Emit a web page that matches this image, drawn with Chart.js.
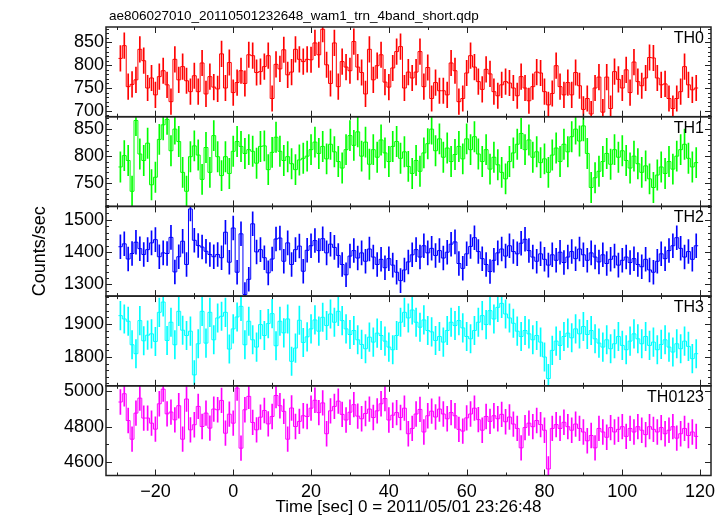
<!DOCTYPE html>
<html>
<head>
<meta charset="utf-8">
<script src="https://cdn.jsdelivr.net/npm/chart.js@4.4.0/dist/chart.umd.min.js"></script>
<style>
  html, body { margin: 0; padding: 0; background: #fff; }
  #wrap { position: relative; width: 726px; height: 516px; }
</style>
</head>
<body>
<div id="wrap"><canvas id="lc" width="726" height="516"></canvas></div>
<script>
// --- labels ---
const fileTitle = 'ae806027010_20110501232648_wam1_trn_4band_short.qdp';
const xTitle = 'Time [sec] 0 = 2011/05/01 23:26:48';
const yTitle = 'Counts/sec';

// --- time grid: 1 s bins, first bin centred at -29 s ---
const binStart = -29;
const binWidth = 1;
const xMin = -32.7, xMax = 122.8;

// --- panels (top to bottom) ---
const bandNames = ['TH0', 'TH1', 'TH2', 'TH3', 'TH0123'];
const bandErrors = [28, 28, 37, 43, 70];          // 1-sigma half width
const yMins = [687, 707, 1264, 1713, 4523];
const yMaxs = [884, 873, 1542, 1984, 5032];
const yMajorSteps = [50, 50, 100, 100, 200];
const yMinorSteps = [10, 10, 20, 20, 100];

// --- rates (counts/sec), one value per bin, t = -29 .. 119 ---
const th0 = [
  815, 843, 753, 758, 768, 835, 810, 750, 772, 735, 775, 788, 757, 720, 813, 768, 797, 766, 742, 777,
  742, 805, 737, 775, 752, 748, 825, 750, 806, 740, 762, 788, 760, 823, 821, 784, 786, 797, 821, 727,
  802, 792, 834, 779, 785, 835, 813, 808, 813,
  812, 849, 823, 879, 801, 760, 849, 753, 808, 796, 788, 852, 796, 784, 737, 835, 768, 799, 823, 763,
  752, 794, 830, 841, 750, 785, 772, 785, 830, 753, 795, 727, 762, 744, 744, 735, 805, 788, 720, 727,
  783, 821, 796, 764, 747, 791, 781, 742, 733, 757, 764,
  761, 750, 733, 775, 750, 722, 753, 785, 783, 742, 713, 738, 799, 753, 735, 762, 735, 784, 755, 703,
  727, 693, 750, 774, 697, 774, 705, 786, 769, 750, 790, 740, 807, 764, 755, 772, 817, 816, 772, 757,
  759, 727, 705, 727, 742, 797, 757, 746, 750
];
const th1 = [
  780, 801, 792, 735, 866, 804, 792, 824, 747, 761, 831, 858, 868, 810, 850, 827, 770, 735, 799, 819,
  802, 757, 816, 770, 838, 799, 764, 799, 768, 809, 827, 818, 805, 812, 809, 787, 818, 819, 775, 807,
  835, 809, 792, 799, 786, 775, 793, 796, 800,
  812, 826, 805, 818, 795, 822, 808, 790, 778, 812, 838, 820, 845, 800, 826, 785, 812, 798, 830, 806,
  790, 818, 827, 796, 808, 781, 768, 792, 772, 806, 823, 850, 810, 832, 798, 815, 790, 803, 818, 795,
  832, 812, 836, 804, 790, 812, 776, 798, 784, 770, 758, 790, 806, 822, 842, 812, 830, 798, 808, 788,
  795, 770, 802, 815, 790, 822, 808, 836, 850, 828, 856, 805, 742, 760, 772, 790, 805, 785, 812, 798,
  810, 792, 778, 800, 786, 770, 782, 758, 742, 765, 780, 768, 790, 776, 800, 812, 822, 796, 780, 788
];
const th2 = [
  1417, 1426, 1379, 1396, 1431, 1411, 1393, 1408, 1429, 1439, 1386, 1398, 1396, 1446, 1339, 1386, 1434, 1362, 1534, 1437,
  1421, 1416, 1403, 1393, 1386, 1393, 1383, 1462, 1369, 1475, 1338, 1457, 1269, 1316, 1488, 1401, 1408, 1383, 1336, 1379,
  1441, 1444, 1372, 1429, 1362, 1408, 1419, 1341, 1406,
  1420, 1436, 1405, 1442, 1398, 1425, 1415, 1390, 1362, 1330, 1388, 1405, 1382, 1398, 1372, 1410, 1385, 1362, 1378, 1352,
  1380, 1360, 1338, 1312, 1345, 1370, 1392, 1408, 1385, 1420, 1398, 1412, 1390, 1405, 1382, 1400, 1425, 1432, 1365, 1350,
  1395, 1418, 1445, 1402, 1380, 1362, 1340, 1375, 1398, 1410, 1388, 1420, 1402, 1395, 1428, 1440, 1405, 1385, 1372, 1395,
  1378, 1360, 1392, 1375, 1400, 1368, 1385, 1402, 1380, 1410, 1392, 1375, 1398, 1385, 1370, 1392, 1365, 1378, 1388, 1360,
  1375, 1385, 1368, 1380, 1362, 1355, 1378, 1345, 1338, 1372, 1395, 1380, 1405, 1420, 1445, 1412, 1385, 1402, 1378, 1420
];
const th3 = [
  1925, 1915, 1908, 1837, 1810, 1910, 1849, 1866, 1870, 1847, 1935, 1966, 1850, 1905, 1837, 1938, 1881, 1865, 1878, 1746,
  1840, 1938, 1842, 1935, 1852, 1918, 1923, 1935, 1824, 1885, 1921, 1953, 1837, 1908, 1852, 1830, 1898, 1865, 1901, 1931,
  1834, 1908, 1873, 1915, 1787, 1827, 1911, 1844, 1861,
  1885, 1912, 1878, 1920, 1895, 1930, 1905, 1938, 1910, 1885, 1868, 1880, 1852, 1838, 1825, 1860, 1845, 1872, 1865, 1848,
  1830, 1822, 1865, 1905, 1935, 1918, 1942, 1905, 1890, 1912, 1880, 1876, 1850, 1862, 1845, 1880, 1905, 1895, 1910, 1888,
  1862, 1855, 1880, 1905, 1925, 1898, 1940, 1915, 1950, 1962, 1930, 1918, 1902, 1878, 1862, 1880, 1870, 1852, 1865, 1845,
  1800, 1735, 1820, 1848, 1835, 1862, 1872, 1858, 1885, 1870, 1892, 1868, 1880, 1855, 1842, 1830, 1852, 1825, 1840, 1862,
  1835, 1822, 1848, 1870, 1855, 1840, 1862, 1835, 1845, 1822, 1838, 1852, 1830, 1815, 1840, 1825, 1848, 1832, 1795, 1810
];
const th0123 = [
  4940, 4987, 4835, 4729, 4877, 4962, 4849, 4849, 4820, 4786, 4930, 5013, 4873, 4883, 4839, 4919, 4729, 4957, 4782, 4811,
  4915, 4801, 4877, 4792, 4900, 4896, 4949, 4763, 4871, 4820, 5019, 4678, 4896, 4972, 4824, 4782, 4854, 4892, 4816, 4858,
  4977, 4919, 4887, 4729, 4906, 4801, 4830, 4862, 4858,
  4905, 4950, 4880, 4935, 4760, 4890, 4915, 4945, 4870, 4838, 4882, 4925, 4860, 4845, 4875, 4900, 4852, 4890, 4930, 4960,
  4838, 4865, 4880, 4852, 4905, 4760, 4790, 4872, 4898, 4770, 4862, 4888, 4855, 4900, 4872, 4845, 4880, 4862, 4785, 4775,
  4850, 4872, 4905, 4840, 4780, 4858, 4830, 4862, 4845, 4870, 4828, 4855, 4815, 4790, 4680, 4795, 4820, 4800, 4835, 4812,
  4780, 4560, 4790, 4812, 4790, 4825, 4800, 4780, 4815, 4790, 4770, 4720, 4750, 4680, 4790, 4770, 4740, 4795, 4770, 4785,
  4800, 4745, 4790, 4770, 4800, 4780, 4755, 4800, 4785, 4770, 4795, 4760, 4780, 4800, 4735, 4760, 4790, 4750, 4770, 4745
];

const series = [th0, th1, th2, th3, th0123];
const bandColors = ['#ff0000', '#00ff00', '#0000ff', '#00ffff', '#ff00ff'];

Chart.defaults.font.family = '"Liberation Sans", Arial, sans-serif';
Chart.defaults.color = '#000';

const times = th0.map((_, i) => binStart + i * binWidth);
const yIds = bandNames.map((_, k) => 'y' + k);

// --- datasets: step histogram + error bars per band ---
const datasets = [];
series.forEach((vals, k) => {
    const steps = vals.map((v, i) => ({ x: times[i] - binWidth / 2, y: v }));
    steps.push({ x: times[times.length - 1] + binWidth / 2, y: vals[vals.length - 1] });
    datasets.push({
        type: 'line', data: steps, yAxisID: yIds[k], stepped: 'before',
        borderColor: bandColors[k], borderWidth: 1, pointRadius: 0, fill: false
    });
    datasets.push({
        type: 'bar', yAxisID: yIds[k],
        data: vals.map((v, i) => ({ x: times[i], y: [v - bandErrors[k], v + bandErrors[k]] })),
        backgroundColor: bandColors[k], borderWidth: 0, barThickness: 1, grouped: false
    });
});

// --- scales: five stacked y axes sharing one time axis ---
// stacked axes are laid out bottom-up in definition order, so add the bottom panel first
const scales = {};
for (let k = bandNames.length - 1; k >= 0; k--) {
    scales[yIds[k]] = {
        type: 'linear', position: 'left', stack: 'panels', stackWeight: 1,
        min: yMins[k], max: yMaxs[k],
        grid: { display: false, drawTicks: false }, border: { display: false },
        ticks: {
            stepSize: yMajorSteps[k], includeBounds: false, autoSkip: false, padding: 2,
            font: { size: 18 }, callback: v => String(v)
        },
        title: { display: k === 2, text: yTitle, font: { size: 18 }, padding: { top: 1, bottom: 0 } },
        afterFit: s => { s.width = 78; }
    };
}
scales.x = {
    type: 'linear', position: 'bottom', min: xMin, max: xMax, offset: false,
    grid: { display: false, drawTicks: false, offset: false }, border: { display: false },
    ticks: {
        stepSize: 20, includeBounds: false, autoSkip: false, maxRotation: 0, padding: 6,
        font: { size: 18 }, callback: v => String(v).replace('-', '\u2212')
    },
    title: { display: true, text: xTitle, font: { size: 17 }, padding: { top: 0, bottom: -2 } },
    afterFit: s => { s.height = 40.5; }
};

// clip each band to its own panel, then draw frames, inward ticks and labels
const qdpFrame = {
    id: 'qdpFrame',
    beforeDatasetDraw(chart, args) {
        const ys = chart.scales[chart.data.datasets[args.index].yAxisID];
        const ca = chart.chartArea;
        chart.ctx.save();
        chart.ctx.beginPath();
        chart.ctx.rect(ca.left, ys.top, ca.right - ca.left, ys.bottom - ys.top);
        chart.ctx.clip();
    },
    afterDatasetDraw(chart) {
        chart.ctx.restore();
    },
    afterDraw(chart) {
        const ctx = chart.ctx;
        const ca = chart.chartArea;
        const xs = chart.scales.x;
        const xMajor = xs.ticks.map(t => t.value);
        ctx.save();
        ctx.fillStyle = '#000';
        ctx.font = '13.5px "Liberation Sans", Arial, sans-serif';
        ctx.textAlign = 'left';
        ctx.textBaseline = 'alphabetic';
        ctx.fillText(fileTitle, ca.left + 3, 20);

        ctx.strokeStyle = '#222';
        bandNames.forEach((name, k) => {
            const ys = chart.scales[yIds[k]];
            const yMajor = ys.ticks.map(t => t.value);
            ctx.lineWidth = 1;
            ctx.beginPath();
            // time ticks on top and bottom of the panel
            for (let v = Math.ceil(xs.min / 10) * 10; v <= xs.max; v += 10) {
                const px = Math.round(xs.getPixelForValue(v)) + 0.5;
                const len = xMajor.includes(v) ? 6 : 3;
                ctx.moveTo(px, ys.top); ctx.lineTo(px, ys.top + len);
                ctx.moveTo(px, ys.bottom); ctx.lineTo(px, ys.bottom - len);
            }
            // rate ticks on left and right
            const ms = yMinorSteps[k];
            for (let v = Math.ceil(ys.min / ms) * ms; v <= ys.max; v += ms) {
                const py = Math.round(ys.getPixelForValue(v)) + 0.5;
                const len = yMajor.includes(v) ? 6 : 3;
                ctx.moveTo(ca.left, py); ctx.lineTo(ca.left + len, py);
                ctx.moveTo(ca.right, py); ctx.lineTo(ca.right - len, py);
            }
            ctx.stroke();
            ctx.lineWidth = 1.5;
            ctx.strokeRect(ca.left, ys.top, ca.right - ca.left, ys.bottom - ys.top);

            ctx.font = '16px "Liberation Sans", Arial, sans-serif';
            ctx.textAlign = 'right';
            ctx.fillText(name, ca.right - 7, ys.top + 16);
        });
        ctx.restore();
    }
};

new Chart(document.getElementById('lc'), {
    type: 'line',
    data: { datasets: datasets },
    options: {
        responsive: false, animation: false, events: [],
        layout: { padding: { left: 28, right: 15, top: 27, bottom: 0 } },
        scales: scales,
        plugins: { legend: { display: false }, tooltip: { enabled: false }, title: { display: false } }
    },
    plugins: [qdpFrame]
});
</script>
</body>
</html>
